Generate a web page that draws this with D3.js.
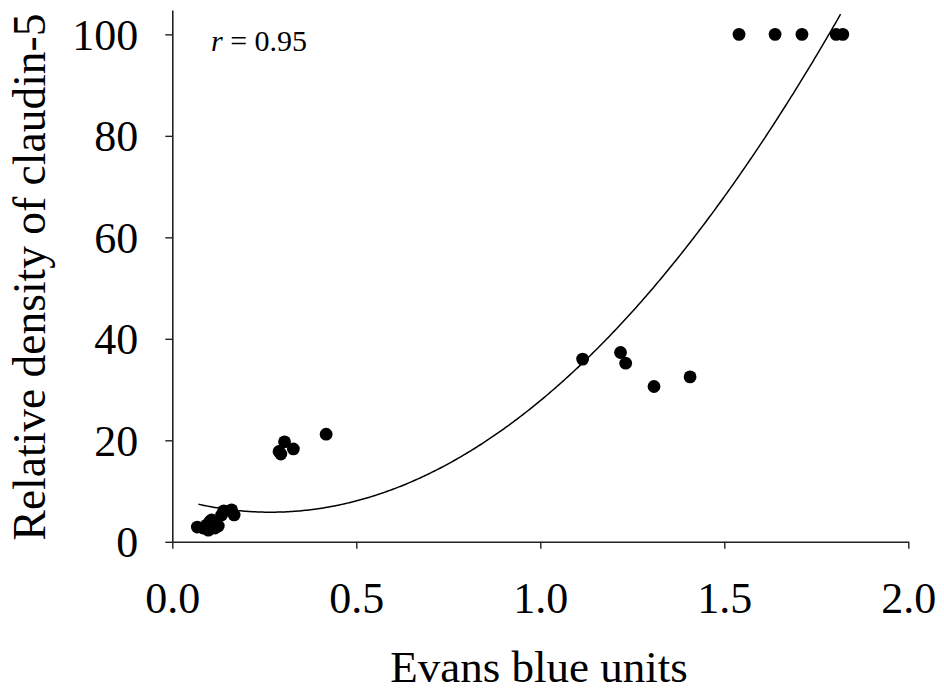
<!DOCTYPE html>
<html>
<head>
<meta charset="utf-8">
<script src="https://cdn.jsdelivr.net/npm/d3@7"></script>
<style>
  body { margin: 0; background: #fff; }
  text { font-family: "Liberation Serif", "Times New Roman", serif; fill: #000; }
</style>
</head>
<body>
<svg id="chart" width="944" height="691"></svg>
<script>
// Evans blue units (x) and relative density of claudin-5 (y)
const evansBlue = [
    0.068, 0.084, 0.093, 0.098, 0.102, 0.107, 0.116, 0.125, 0.134, 0.140, 0.161, 0.168,
    0.290, 0.295, 0.305, 0.329, 0.418,
    1.115, 1.218, 1.232, 1.309, 1.407,
    1.540, 1.638, 1.711, 1.804, 1.822
]
const claudin5 = [
    2.9, 2.7, 3.3, 2.3, 4.0, 4.3, 2.7, 3.1, 5.3, 6.1, 6.3, 5.3,
    17.8, 17.3, 19.7, 18.3, 21.2,
    36.0, 37.3, 35.2, 30.6, 32.5,
    100, 100, 100, 100, 100
]
const xTicks = [0, 0.5, 1.0, 1.5, 2.0]
const yTicks = [0, 20, 40, 60, 80, 100]

// quadratic fit drawn on the chart: y = a + b*x + c*x^2
const fitCoef = [8.75, -21.84, 40.9]
const fitRange = [0.071, 1.82]
const rLabel = "0.95"

const svg = d3.select("#chart")

let x = d3.scaleLinear().domain([0, 2]).range([172.3, 908.3])
let y = d3.scaleLinear().domain([0, 104.8]).range([541.8, 10])

// x axis
let xAxis = svg.append("g")
    .attr("transform", "translate(0," + y(0) + ")")
    .call(d3.axisBottom(x).tickValues(xTicks).tickFormat(d3.format(".1f")).tickSize(7).tickSizeOuter(0))
xAxis.select(".domain").attr("stroke", "#222").attr("stroke-width", 1.6)
xAxis.selectAll(".tick line").attr("stroke", "#222").attr("stroke-width", 1.4)
xAxis.selectAll(".tick text")
    .attr("y", 71).attr("dy", 0)
    .style("font-size", "44px")
    .style("font-family", "Liberation Serif, Times New Roman, serif")

// y axis
let yAxis = svg.append("g")
    .attr("transform", "translate(" + x(0) + ",0)")
    .call(d3.axisLeft(y).tickValues(yTicks).tickSize(7).tickSizeOuter(0))
yAxis.select(".domain").attr("stroke", "#222").attr("stroke-width", 1.6)
yAxis.selectAll(".tick line").attr("stroke", "#222").attr("stroke-width", 1.4)
yAxis.selectAll(".tick text")
    .attr("x", -34).attr("dy", "0.34em")
    .style("font-size", "44px")
    .style("font-family", "Liberation Serif, Times New Roman, serif")

// fitted curve
let fitX = d3.range(fitRange[0], fitRange[1] + 0.0001, 0.005)
let line = d3.line()
    .x(d => x(d))
    .y(d => y(fitCoef[0] + fitCoef[1] * d + fitCoef[2] * d * d))
svg.append("path")
    .datum(fitX)
    .attr("d", line)
    .attr("fill", "none")
    .attr("stroke", "#000")
    .attr("stroke-width", 1.5)

// points
svg.append("g")
    .selectAll("circle")
    .data(evansBlue.map((v, i) => [v, claudin5[i]]))
    .enter().append("circle")
    .attr("cx", d => x(d[0]))
    .attr("cy", d => y(d[1]))
    .attr("r", 6.4)
    .attr("fill", "#000")

// r annotation
let rText = svg.append("text")
    .attr("x", 211)
    .attr("y", 51)
    .attr("xml:space", "preserve")
    .style("white-space", "pre")
    .style("font-size", "30px")
rText.append("tspan").style("font-style", "italic").text("r")
rText.append("tspan").text(" = " + rLabel)

// axis titles
svg.append("text")
    .attr("x", 539)
    .attr("y", 682)
    .attr("text-anchor", "middle")
    .style("font-size", "45px")
    .text("Evans blue units")

svg.append("text")
    .attr("transform", "translate(45,277)rotate(-90)")
    .attr("text-anchor", "middle")
    .style("font-size", "45.5px")
    .text("Relative density of claudin-5")
</script>
</body>
</html>
